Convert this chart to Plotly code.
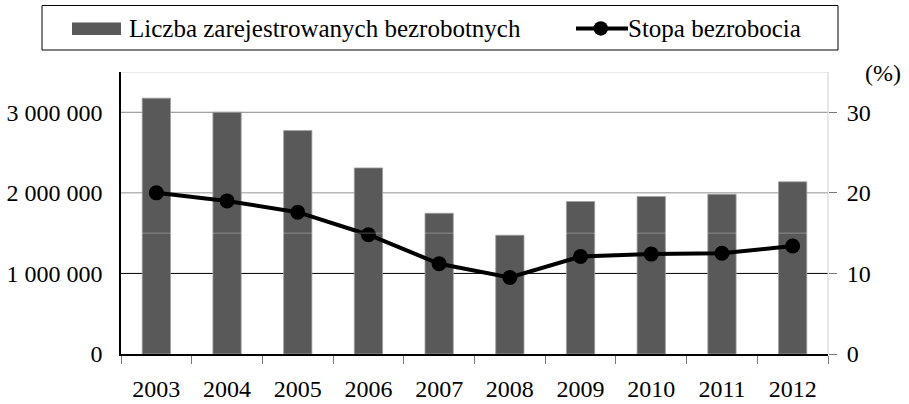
import plotly.graph_objects as go

# Data
years = ["2003", "2004", "2005", "2006", "2007", "2008", "2009", "2010", "2011", "2012"]
unemployed = [3175674, 2999601, 2773000, 2309410, 1746573, 1473752, 1892680, 1954706, 1982676, 2136815]
rate = [20.0, 19.0, 17.6, 14.8, 11.2, 9.5, 12.1, 12.4, 12.5, 13.4]

bar_label = "Liczba zarejestrowanych bezrobotnych"
line_label = "Stopa bezrobocia"

W, H = 909, 404
L, R, T, B = 121, 828, 72, 354
FONT = "Liberation Serif"
FS = 24
BAR_COLOR = "#595959"


def px_x(px):
    return (px - L) / (R - L)


def px_y(py):
    return (B - py) / (B - T)


fig = go.Figure()
fig.add_trace(go.Bar(
    x=years, y=unemployed, name=bar_label,
    marker=dict(color=BAR_COLOR, line=dict(color="#a0a0a0", width=0.8)),
    width=0.4, showlegend=False,
))
fig.add_trace(go.Scatter(
    x=years, y=rate, name=line_label, yaxis="y2",
    mode="lines+markers",
    line=dict(color="black", width=4),
    marker=dict(color="black", size=15),
    showlegend=False,
))

# gridlines
fig.add_hline(y=3500000, line_color="#d4d4d4", line_width=1, layer="below")
fig.add_hline(y=3000000, line_color="#8a8a8a", line_width=1, layer="below")
fig.add_hline(y=2000000, line_color="#b8b8b8", line_width=1.5, layer="below")
fig.add_hline(y=1000000, line_color="black", line_width=1, layer="below")
fig.add_hline(y=1500000, line_color="rgba(255,255,255,0.3)", line_width=1, layer="above")

# right border
fig.add_shape(type="line", xref="paper", yref="paper", x0=1, x1=1, y0=0, y1=1,
              line=dict(color="#d0d0d0", width=1), layer="below")

# legend box drawn by hand
fig.add_shape(type="rect", xref="paper", yref="paper",
              x0=px_x(42), x1=px_x(838), y0=px_y(50), y1=px_y(5.5),
              line=dict(color="black", width=1), fillcolor="white")
fig.add_shape(type="rect", xref="paper", yref="paper",
              x0=px_x(72), x1=px_x(121), y0=px_y(35), y1=px_y(22.5),
              line=dict(width=0), fillcolor=BAR_COLOR)
fig.add_shape(type="line", xref="paper", yref="paper",
              x0=px_x(576), x1=px_x(628), y0=px_y(28.5), y1=px_y(28.5),
              line=dict(color="black", width=4))
fig.add_shape(type="circle", xref="paper", yref="paper",
              x0=px_x(593.5), x1=px_x(608), y0=px_y(35.7), y1=px_y(21.2),
              line=dict(width=0), fillcolor="black")
fig.add_annotation(text=bar_label, xref="paper", yref="paper",
                   x=px_x(127), y=px_y(29), xanchor="left", yanchor="middle",
                   showarrow=False, font=dict(size=25, color="black", family=FONT))
fig.add_annotation(text=line_label, xref="paper", yref="paper",
                   x=px_x(626), y=px_y(29), xanchor="left", yanchor="middle",
                   showarrow=False, font=dict(size=25, color="black", family=FONT))
fig.add_annotation(text="(%)", xref="paper", yref="paper",
                   x=px_x(903), y=px_y(73), xanchor="right", yanchor="middle",
                   showarrow=False, font=dict(size=FS, color="black", family=FONT))

fig.update_layout(
    width=W, height=H,
    margin=dict(l=L, r=W - R, t=T, b=H - B),
    paper_bgcolor="white", plot_bgcolor="white",
    font=dict(family=FONT, size=FS, color="black"),
    xaxis=dict(
        type="category", range=[-0.5, len(years) - 0.5],
        tickson="boundaries", ticks="outside", ticklen=8,
        tickcolor="#777", showline=True, linecolor="black", linewidth=1.5,
        showgrid=False, automargin=False, ticklabelstandoff=12,
    ),
    yaxis=dict(
        range=[0, 3500000], tickvals=[0, 1000000, 2000000, 3000000],
        ticktext=["0", "1 000 000", "2 000 000", "3 000 000"],
        showgrid=False, zeroline=False, showline=True, linecolor="black", linewidth=1.5,
        ticks="", ticklabelstandoff=12, automargin=False,
    ),
    yaxis2=dict(
        overlaying="y", side="right", range=[0, 35], tickvals=[0, 10, 20, 30],
        showgrid=False, zeroline=False, showline=False, automargin=False,
        ticks="outside", ticklen=8, tickcolor="#777", ticklabelstandoff=5,
    ),
)

fig.write_html("out.html", config={"displayModeBar": False},
               post_script="document.body.style.margin='0';")
